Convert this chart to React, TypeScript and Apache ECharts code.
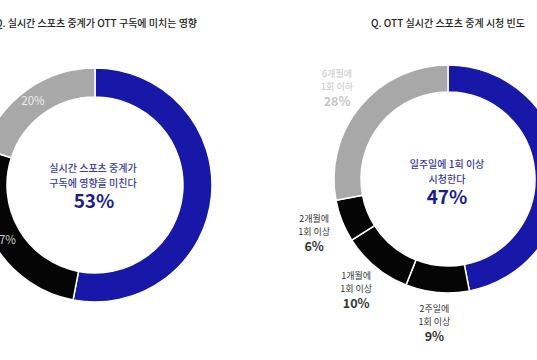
import React, { useEffect, useRef } from "react";
import * as echarts from "echarts";

const leftTitle = "Q. 실시간 스포츠 중계가 OTT 구독에 미치는 영향";
const rightTitle = "Q. OTT 실시간 스포츠 중계 시청 빈도";

const leftNames = ["구독에 영향을 미친다", "영향 없음", "모름"];
const leftValues = [53, 27, 20];
const leftCenterLines = ["실시간 스포츠 중계가", "구독에 영향을 미친다"];

const rightNames = ["일주일에 1회 이상", "2주일에\n1회 이상", "1개월에\n1회 이상", "2개월에\n1회 이상", "6개월에\n1회 이하"];
const rightValues = [47, 9, 10, 6, 28];
const rightCenterLines = ["일주일에 1회 이상", "시청한다"];

const BLUE = "#1818a8";
const BLACK = "#050505";
const GRAY = "#a8a8a8";
const FONT = "'Noto Sans CJK KR', 'Noto Sans', sans-serif";

export default function App() {
  const ref = useRef<HTMLDivElement>(null);
  useEffect(() => {
    const chart = echarts.init(ref.current!, null, { renderer: "svg" });
    const leftColors = [BLUE, BLACK, GRAY];
    const leftLabelColors = ["transparent", "#d0d0d0", "#ececec"];
    const rightColors = [BLUE, BLACK, BLACK, BLACK, GRAY];
    const rightLabelColors = ["transparent", "#333", "#333", "#333", "#c4c4c4"];

    const centerText = (x: number, y: number, text: string, big: boolean) => ({
      type: "text",
      x,
      y,
      style: {
        text,
        textAlign: "center",
        textVerticalAlign: "middle",
        font: big ? `600 19px ${FONT}` : `500 10px ${FONT}`,
        fill: big ? "#1c1c90" : "#3a3aa8",
      },
    });

    chart.setOption({
      animation: false,
      textStyle: { fontFamily: FONT },
      graphic: [
        { type: "text", x: 96, y: 22, style: { text: leftTitle, textAlign: "center", textVerticalAlign: "middle", font: `500 10px ${FONT}`, fill: "#222" } },
        { type: "text", x: 448, y: 22, style: { text: rightTitle, textAlign: "center", textVerticalAlign: "middle", font: `500 10px ${FONT}`, fill: "#222" } },
        centerText(93, 167, leftCenterLines[0], false),
        centerText(93, 182, leftCenterLines[1], false),
        centerText(94, 199, leftValues[0] + "%", true),
        centerText(447, 163, rightCenterLines[0], false),
        centerText(447, 178, rightCenterLines[1], false),
        centerText(447, 195, rightValues[0] + "%", true),
      ],
      series: [
        {
          type: "pie",
          center: [95, 185],
          radius: [88, 117],
          silent: true,
          labelLine: { show: false },
          data: leftValues.map((v, i) => ({
            name: leftNames[i],
            value: v,
            itemStyle: { color: leftColors[i], borderColor: "#fff", borderWidth: 1.5 },
            label: {
              show: i > 0,
              position: "inside",
              formatter: "{c}%",
              color: leftLabelColors[i],
              fontSize: 11.5,
              fontFamily: FONT,
            },
          })),
        },
        {
          type: "pie",
          center: [448, 179],
          radius: [87, 114],
          silent: true,
          label: { show: false },
          labelLine: { show: false },
          data: rightValues.map((v, i) => ({
            name: rightNames[i],
            value: v,
            itemStyle: { color: rightColors[i], borderColor: "#fff", borderWidth: 1.5 },
          })),
        },
        {
          type: "pie",
          center: [448, 179],
          radius: [114, 168],
          silent: true,
          labelLine: { show: false },
          itemStyle: { color: "transparent" },
          data: rightValues.map((v, i) => ({
            name: rightNames[i],
            value: v,
            label: {
              show: i > 0,
              position: "inside",
              formatter: "{n|{b}}\n{p|{c}%}",
              rich: {
                n: { fontSize: 9, lineHeight: 13, color: rightLabelColors[i], fontFamily: FONT, align: "center" },
                p: { fontSize: 12.5, lineHeight: 15, fontWeight: 600, color: rightLabelColors[i], fontFamily: FONT, align: "center" },
              },
            },
          })),
        },
      ],
    });
    return () => chart.dispose();
  }, []);
  return <div ref={ref} style={{ position: "fixed", left: 0, top: 0, width: 537, height: 360, background: "#fff" }} />;
}
